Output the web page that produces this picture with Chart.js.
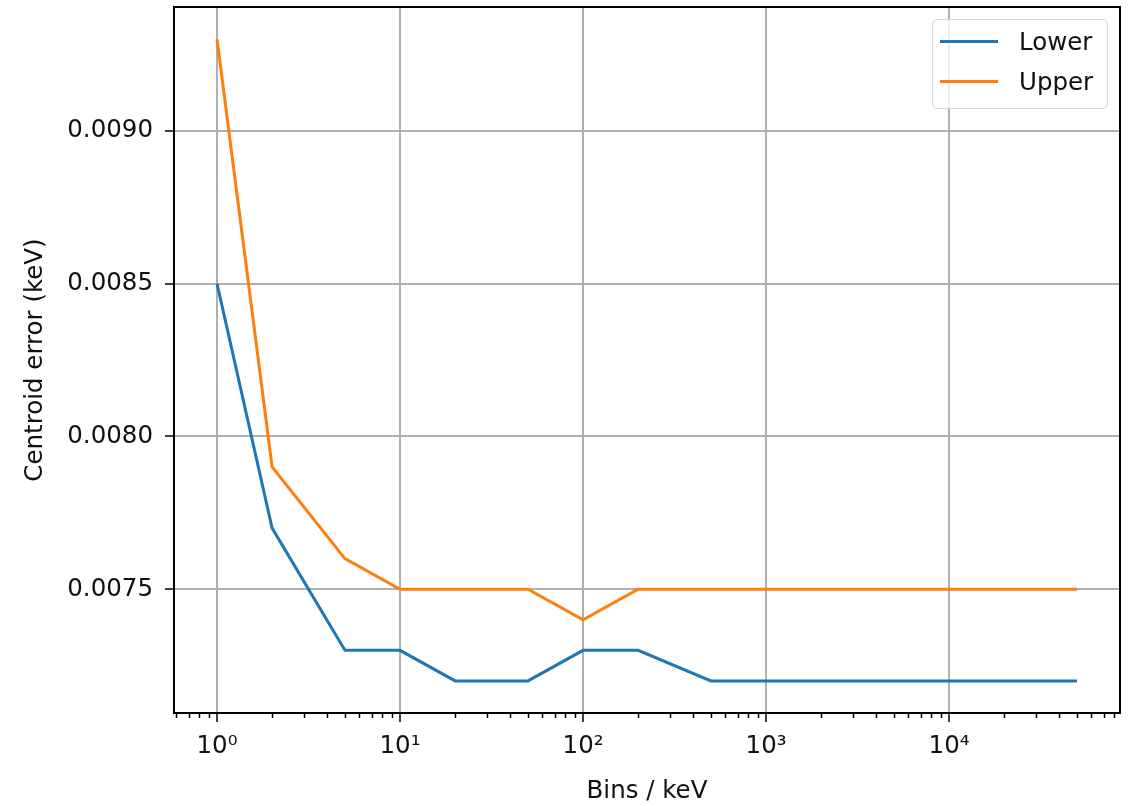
<!DOCTYPE html>
<html>
<head>
<meta charset="utf-8">
<script src="https://cdn.jsdelivr.net/npm/chart.js@4/dist/chart.umd.min.js"></script>
<style>
  html, body { margin: 0; padding: 0; background: #fff; }
  #wrap { position: relative; width: 1132px; height: 806px; }
  #legend {
    position: absolute; left: 932px; top: 19px; width: 174px; height: 88px;
    border: 1px solid #d6d6d6; border-radius: 6px; background: rgba(255,255,255,0.8);
    font-family: 'DejaVu Sans', sans-serif; font-size: 24.5px; color: #111;
  }
  .item { position: absolute; left: 7px; height: 30px; }
  .item .sw { position: absolute; left: 0; top: 13px; width: 58px; height: 3px; }
  .item .tx { position: absolute; left: 79px; top: 0; line-height: 30px; white-space: nowrap; }
</style>
</head>
<body>
<div id="wrap">
  <canvas id="chart"></canvas>
  <div id="legend"></div>
</div>
<script>
// Datos
const bins = [1, 2, 5, 10, 20, 50, 100, 200, 500, 1000, 2000, 5000, 10000, 20000, 50000];
const lowerErr = [0.0085, 0.0077, 0.0073, 0.0073, 0.0072, 0.0072, 0.0073, 0.0073, 0.0072, 0.0072, 0.0072, 0.0072, 0.0072, 0.0072, 0.0072];
const upperErr = [0.0093, 0.0079, 0.0076, 0.0075, 0.0075, 0.0075, 0.0074, 0.0075, 0.0075, 0.0075, 0.0075, 0.0075, 0.0075, 0.0075, 0.0075];

const seriesNames = ['Lower', 'Upper'];
const seriesColors = ['#1f77b4', '#ff7f0e'];

const yTicks = [0.0075, 0.0080, 0.0085, 0.0090];
const xMajorTicks = [1, 10, 100, 1000, 10000];
const xTickLabels = ['10\u2070', '10\u00b9', '10\u00b2', '10\u00b3', '10\u2074'];
const xMin = 0.582, xMax = 85900;
const yMin = 0.007095, yMax = 0.009405;

// ticks menores del eje log (2..9 por década)
const xMinorTicks = [];
for (let d = 0.1; d <= 10000; d *= 10) {
  for (let m = 2; m <= 9; m++) {
    const v = +(m * d).toPrecision(3);
    if (v >= xMin && v <= xMax) xMinorTicks.push(v);
  }
}

const FONT = { family: 'DejaVu Sans', size: 24.5 };
const TEXT = '#111';

function isMajor(v) {
  return xMajorTicks.indexOf(v) !== -1;
}

// marco completo + ticks menores
const framePlugin = {
  id: 'frame',
  afterDraw(chart) {
    const ctx = chart.ctx;
    const a = chart.chartArea;
    const xs = chart.scales.x;
    ctx.save();
    ctx.strokeStyle = '#000';
    ctx.lineWidth = 2;
    ctx.strokeRect(a.left, a.top, a.right - a.left, a.bottom - a.top);
    ctx.lineWidth = 1.5;
    ctx.beginPath();
    xMinorTicks.forEach(v => {
      const px = Math.round(xs.getPixelForValue(v)) + 0.5;
      ctx.moveTo(px, a.bottom);
      ctx.lineTo(px, a.bottom + 5);
    });
    ctx.stroke();
    ctx.restore();
  }
};

const canvas = document.getElementById('chart');
const chart = new Chart(canvas.getContext('2d'), {
  type: 'line',
  data: {
    datasets: [lowerErr, upperErr].map((vals, i) => ({
      label: seriesNames[i],
      data: bins.map((b, j) => ({ x: b, y: vals[j] })),
      borderColor: seriesColors[i],
      backgroundColor: seriesColors[i],
      borderWidth: 3,
      pointRadius: 0,
      tension: 0,
      fill: false
    }))
  },
  options: {
    responsive: true,
    maintainAspectRatio: false,
    animation: false,
    layout: { padding: { left: 0, top: 7, right: 12, bottom: 0 } },
    plugins: {
      legend: { display: false },
      tooltip: { enabled: false }
    },
    scales: {
      x: {
        type: 'logarithmic',
        min: xMin,
        max: xMax,
        afterBuildTicks: s => {
          s.ticks = xMajorTicks.concat(xMinorTicks).sort((a, b) => a - b).map(v => ({ value: v }));
        },
        afterFit: s => {
          s.height = 93;
          s.paddingLeft = 0; s.paddingRight = 0;
        },
        ticks: {
          autoSkip: false,
          maxRotation: 0,
          color: TEXT,
          font: FONT,
          padding: 10,
          callback: v => {
            const k = xMajorTicks.indexOf(v);
            return k === -1 ? '' : xTickLabels[k];
          }
        },
        grid: {
          color: c => (c.tick && isMajor(c.tick.value)) ? '#b0b0b0' : 'rgba(0,0,0,0)',
          lineWidth: 2,
          tickLength: 9,
          tickColor: c => (c.tick && isMajor(c.tick.value)) ? '#000' : 'rgba(0,0,0,0)',
          tickWidth: 1.5
        },
        border: { display: true, color: '#000', width: 2 },
        title: {
          display: true,
          text: 'Bins / keV',
          color: TEXT,
          font: FONT,
          padding: { top: 0, bottom: 0 }
        }
      },
      y: {
        type: 'linear',
        min: yMin,
        max: yMax,
        afterBuildTicks: s => {
          s.ticks = yTicks.map(v => ({ value: v }));
        },
        afterFit: s => {
          s.width = 174;
          s.paddingTop = 0; s.paddingBottom = 0;
        },
        ticks: {
          color: TEXT,
          font: FONT,
          padding: 12,
          callback: v => Number(v).toFixed(4)
        },
        grid: {
          color: '#b0b0b0',
          lineWidth: 2,
          tickLength: 9,
          tickColor: '#000',
          tickWidth: 1.5
        },
        border: { display: true, color: '#000', width: 2 },
        title: {
          display: true,
          text: 'Centroid error (keV)',
          color: TEXT,
          font: FONT,
          padding: { top: 21, bottom: 0 }
        }
      }
    }
  },
  plugins: [framePlugin]
});

// Leyenda en HTML a partir de los datasets
const legendEl = document.getElementById('legend');
chart.data.datasets.forEach((ds, i) => {
  const row = document.createElement('div');
  row.className = 'item';
  row.style.top = (7 + i * 40) + 'px';
  row.innerHTML = '<div class="sw" style="background:' + ds.borderColor + '"></div><div class="tx">' + ds.label + '</div>';
  legendEl.appendChild(row);
});
</script>
</body>
</html>
